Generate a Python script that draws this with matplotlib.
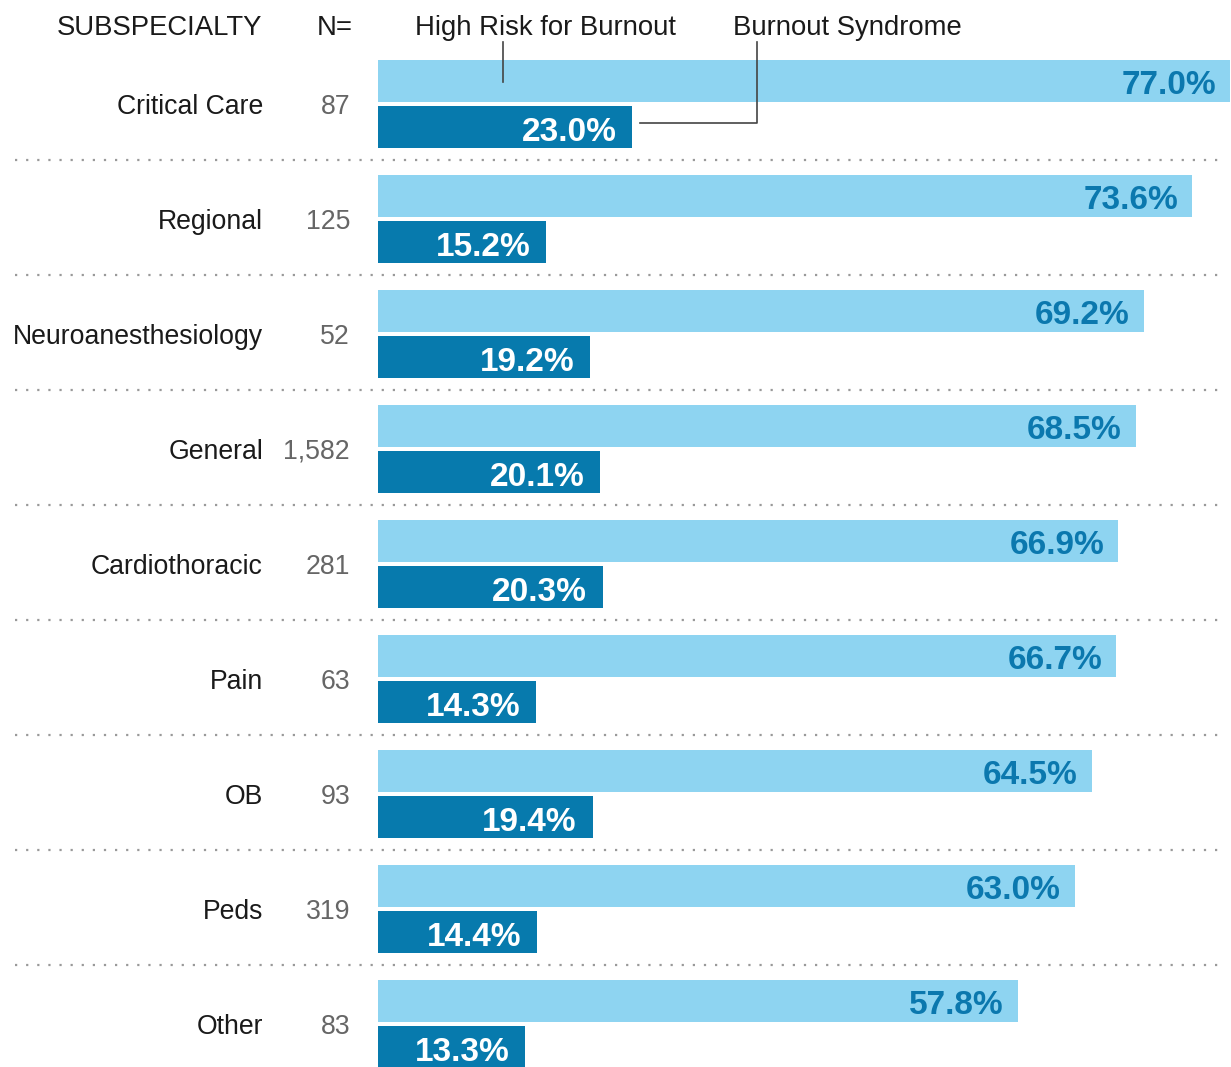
import matplotlib
matplotlib.use("Agg")
import matplotlib.pyplot as plt
from matplotlib.transforms import blended_transform_factory
from matplotlib.lines import Line2D
import numpy as np

categories = ["Critical Care", "Regional", "Neuroanesthesiology", "General",
              "Cardiothoracic", "Pain", "OB", "Peds", "Other"]
n_values = ["87", "125", "52", "1,582", "281", "63", "93", "319", "83"]
high_risk = [77.0, 73.6, 69.2, 68.5, 66.9, 66.7, 64.5, 63.0, 57.8]
burnout = [23.0, 15.2, 19.2, 20.1, 20.3, 14.3, 19.4, 14.4, 13.3]

LIGHT = "#8ED4F1"
DARK = "#077AAD"
LIGHT_TXT = "#0B78AE"
FONT = ["Liberation Sans", "DejaVu Sans"]
FS = 19.2

W, H = 1231, 1067
fig = plt.figure(figsize=(W / 100, H / 100), dpi=100)
ax = fig.add_axes([0, 0, 1, 1])
ax.set_axis_off()

# x scale: 0 -> pixel 378, 77 -> pixel 1230
px_per = (1230 - 378) / 77.0
ax.set_xlim(-378 / px_per, (W - 378) / px_per)
# y scale: row i centre at pixel 104 + 115 i
pitch = 115.0
ax.set_ylim((H - 104) / pitch, -104 / pitch)

y = np.arange(len(categories))
bh = 42 / pitch
ax.barh(y - 23 / pitch, high_risk, height=bh, color=LIGHT, left=0)
ax.barh(y + 23 / pitch, burnout, height=bh, color=DARK, left=0)

for i in range(len(categories)):
    ax.annotate(f"{high_risk[i]:.1f}%", (high_risk[i], y[i] - 23 / pitch),
                xytext=(-14, -13), textcoords="offset pixels", ha="right", va="baseline",
                fontsize=24, fontweight="bold", color=LIGHT_TXT, family=FONT)
    ax.annotate(f"{burnout[i]:.1f}%", (burnout[i], y[i] + 23 / pitch),
                xytext=(-16, -14), textcoords="offset pixels", ha="right", va="baseline",
                fontsize=24, fontweight="bold", color="white", family=FONT)

tr = blended_transform_factory(fig.transFigure, ax.transData)
for i, (c, n) in enumerate(zip(categories, n_values)):
    ax.annotate(c, (263 / W, y[i]), xycoords=tr, xytext=(0, -10),
                textcoords="offset pixels", ha="right", va="baseline",
                fontsize=FS, color="#1a1a1a", family=FONT)
    ax.annotate(n, (350 / W, y[i]), xycoords=tr, xytext=(0, -10),
                textcoords="offset pixels", ha="right", va="baseline",
                fontsize=FS, color="#666666", family=FONT)

# dotted separators
for i in range(len(categories) - 1):
    yy = i + 0.485
    ln = Line2D([15 / W, 1226 / W], [yy, yy], transform=tr, color="#999999",
                linestyle=(0, (1, 4)), linewidth=1.6)
    fig.add_artist(ln)

# header
hy = 1 - 35 / H
fig.text(262 / W, hy, "SUBSPECIALTY", ha="right", va="baseline", fontsize=19.8,
         color="#1a1a1a", family=FONT)
fig.text(353 / W, hy, "N=", ha="right", va="baseline", fontsize=19.8,
         color="#1a1a1a", family=FONT)
fig.text(415 / W, hy, "High Risk for Burnout", ha="left", va="baseline", fontsize=19.8,
         color="#1a1a1a", family=FONT)
fig.text(733 / W, hy, "Burnout Syndrome", ha="left", va="baseline", fontsize=19.8,
         color="#1a1a1a", family=FONT)

# leader lines
lc = "#444444"
fig.add_artist(Line2D([503 / W, 503 / W], [1 - 42 / H, 1 - 82 / H], color=lc, linewidth=1.2))
fig.add_artist(Line2D([757 / W, 757 / W, 640 / W], [1 - 42 / H, 1 - 123 / H, 1 - 123 / H],
                      color=lc, linewidth=1.2))

fig.savefig("out.png", dpi=100)
